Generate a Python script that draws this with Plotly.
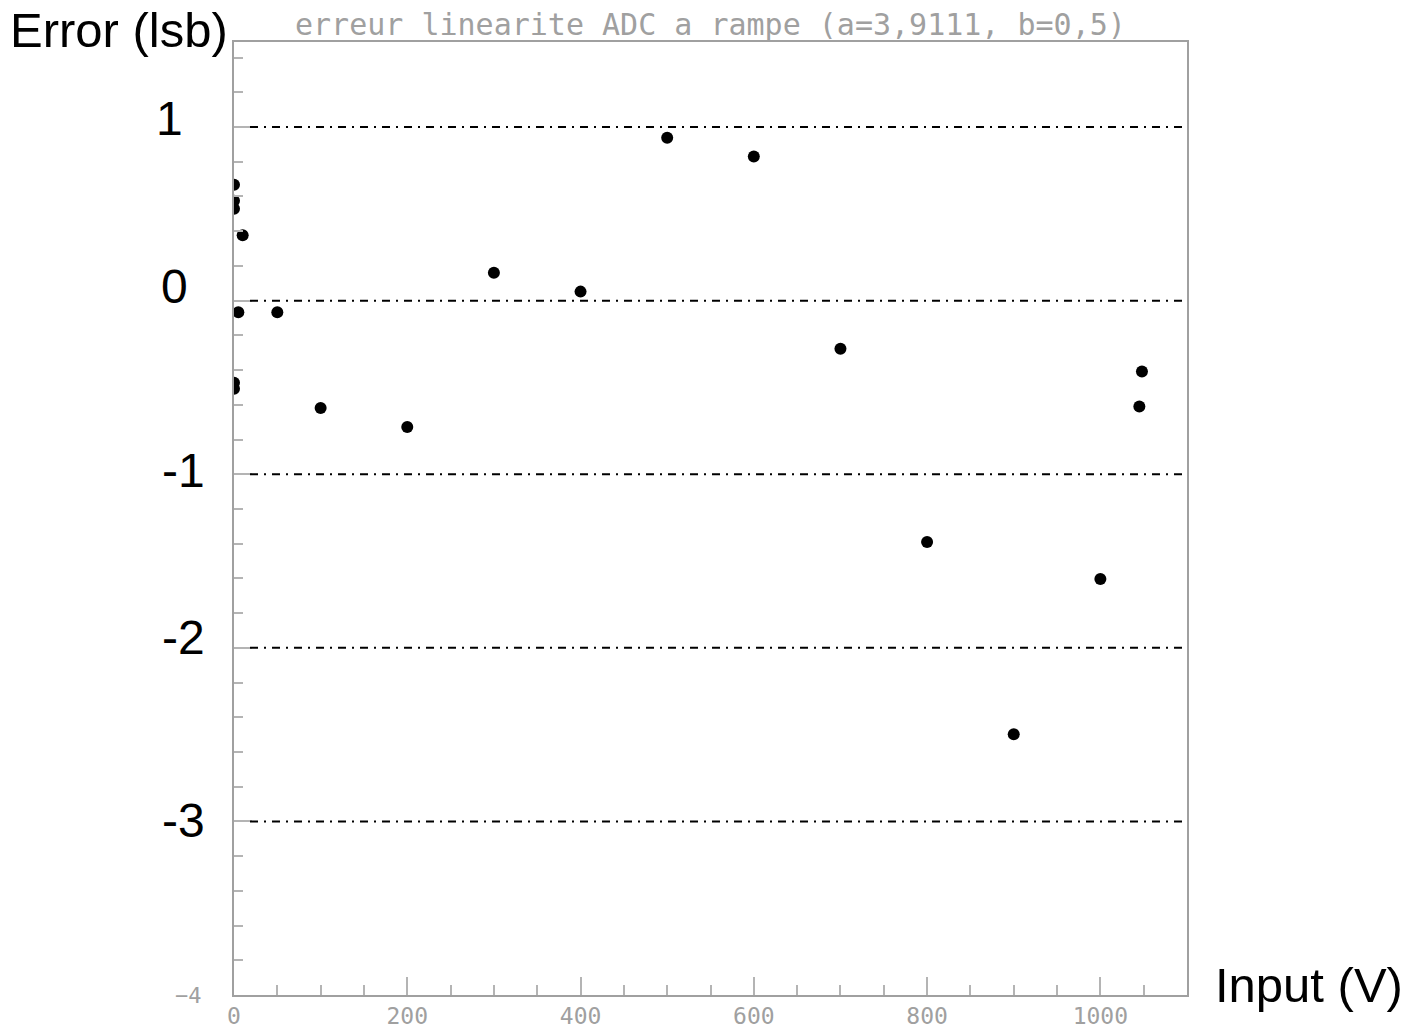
import plotly.graph_objects as go

# ---- data ----
input_v = [0, 0, 0, 10, 5, 50, 0, 0, 100, 200, 300, 400, 500, 600, 700, 800, 900, 1000, 1045, 1048]
error_lsb = [0.668, 0.576, 0.530, 0.377, -0.067, -0.067, -0.473, -0.508, -0.618, -0.728,
             0.161, 0.052, 0.939, 0.830, -0.277, -1.390, -2.498, -1.604, -0.610, -0.408]

ref_levels = [1, 0, -1, -2, -3]
ref_labels = ["1", "0", "-1", "-2", "-3"]
ref_label_y = [1.052, 0.083, -0.978, -1.941, -2.997]

x_ticks = [0, 200, 400, 600, 800, 1000]
y_ticks = [-4, -3, -2, -1, 0, 1]
y_ticktext = ["\u22124", "", "", "", "", ""]

title_text = "erreur linearite ADC a rampe (a=3,9111, b=0,5)"
y_title = "Error (lsb)"
x_title = "Input (V)"

# ---- layout geometry (page body margin is removed by post_script) ----
W, H = 1406, 1029
SL, SR, ST, SB = 234, 1187, 42, 995          # plot area in pixels
L, T = SL, ST
R, B = W - SR, H - SB
PW, PH = SR - SL, SB - ST


def px_x(p):
    return (p - SL) / PW


def px_y(p):
    return (SB - p) / PH


fig = go.Figure()
fig.add_trace(go.Scatter(
    x=input_v, y=error_lsb, mode="markers",
    marker=dict(color="black", size=12, line=dict(width=0)),
    cliponaxis=True, showlegend=False, hoverinfo="x+y"))

gray = "#a0a0a0"
tgray = "#b4b4b4"
tickfont = dict(family="DejaVu Sans Mono", size=23, color=gray)

fig.update_layout(
    width=W, height=H,
    margin=dict(l=L, r=R, t=T, b=B, pad=0, autoexpand=False),
    paper_bgcolor="white", plot_bgcolor="white",
    showlegend=False,
    xaxis=dict(range=[0, 1100], showgrid=False, zeroline=False, automargin=False,
               showline=True, linecolor=gray, linewidth=2, mirror=True,
               tickmode="array", tickvals=x_ticks,
               ticks="inside", ticklen=18, tickwidth=2, tickcolor=tgray,
               minor=dict(tickmode="linear", tick0=0, dtick=50, ticks="inside",
                          ticklen=10, tickwidth=2, tickcolor=tgray, showgrid=False),
               tickfont=tickfont, ticklabelstandoff=-1),
    yaxis=dict(range=[-4, 1.49], showgrid=False, zeroline=False, automargin=False,
               showline=True, linecolor=gray, linewidth=2, mirror=True,
               tickmode="array", tickvals=y_ticks, ticktext=y_ticktext,
               ticks="inside", ticklen=18, tickwidth=2, tickcolor=tgray,
               minor=dict(tickmode="linear", tick0=-4, dtick=0.2, ticks="inside",
                          ticklen=9, tickwidth=2, tickcolor=tgray, showgrid=False),
               tickfont=dict(family="DejaVu Sans Mono", size=22, color=gray),
               ticklabelstandoff=26),
)

# dash-dot reference lines
for lv in ref_levels:
    fig.add_shape(type="line", xref="x domain", yref="y",
                  x0=px_x(250), x1=px_x(1183), y0=lv, y1=lv,
                  line=dict(color="black", width=2, dash="8px,6px,2px,6px"))

# big overlay labels
label_xshift = [-21, -16, 1, 1, 1]
for txt, ly, xs in zip(ref_labels, ref_label_y, label_xshift):
    fig.add_annotation(text=txt, xref="paper", yref="y", x=px_x(206), y=ly,
                       xanchor="right", yanchor="middle", xshift=xs, showarrow=False,
                       font=dict(family="Liberation Sans", size=48, color="black"))

fig.add_annotation(text=y_title, xref="paper", yref="paper", x=px_x(8), y=px_y(30),
                   xanchor="left", yanchor="middle", showarrow=False,
                   font=dict(family="Liberation Sans", size=49, color="black"))
fig.add_annotation(text=x_title, xref="paper", yref="paper", x=px_x(1213), y=px_y(985),
                   xanchor="left", yanchor="middle", showarrow=False,
                   font=dict(family="Liberation Sans", size=49, color="black"))
fig.add_annotation(text=title_text, xref="paper", yref="paper", x=0.5, y=px_y(25),
                   xanchor="center", yanchor="middle", showarrow=False,
                   font=dict(family="DejaVu Sans Mono", size=30, color=gray))

fig.write_html(
    "out.html",
    config={"displayModeBar": False},
    post_script="document.body.style.margin='0';document.body.style.overflow='hidden';",
)
